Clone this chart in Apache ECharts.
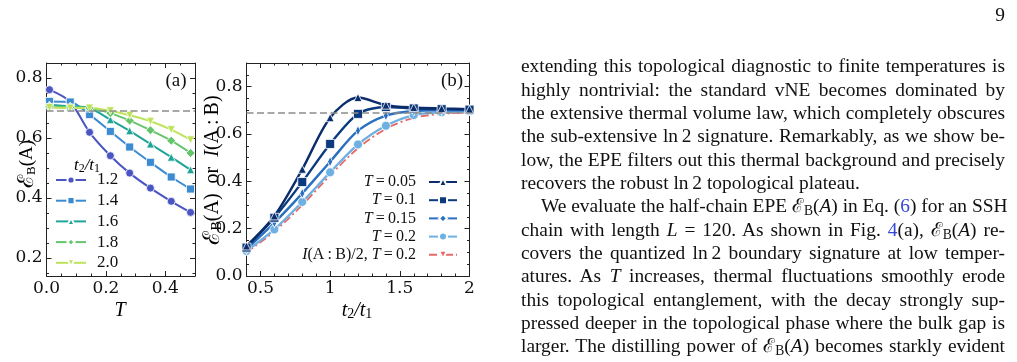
<!DOCTYPE html>
<html>
<head>
<meta charset="utf-8">
<script src="https://cdn.jsdelivr.net/npm/echarts@6/dist/echarts.min.js"></script>
<style>
  html, body { margin: 0; padding: 0; background: #fff; }
  #page { position: relative; width: 1017px; height: 362px; overflow: hidden; }
  #chart { position: absolute; left: 0; top: 0; width: 1017px; height: 362px; }
  #text { position: absolute; left: 521px; top: 54.3px; width: 484px;
          font-family: 'Liberation Serif', serif; font-size: 19.4px; line-height: 23.33px; color: #111; }
  #text div { height: 23.33px; text-align: justify; text-align-last: justify; white-space: nowrap; }
  #text div.last { text-align: left; text-align-last: left; }
  #text div.ind { text-indent: 20px; }
  #text sub { font-size: 0.7em; line-height: 0; vertical-align: -0.25em; }
  .ref { color: #3346d8; }
  #pnum { position: absolute; left: 985px; width: 20px; top: 3px; text-align: right;
          font-family: 'Liberation Serif', serif; font-size: 19.4px; line-height: 23.33px; color: #111; }
</style>
</head>
<body>
<div id="page">
  <div id="chart"></div>
  <div id="pnum">9</div>
  <div id="text">
    <div>extending this topological diagnostic to finite temperatures is</div>
    <div>highly nontrivial: the standard vNE becomes dominated by</div>
    <div>the extensive thermal volume law, which completely obscures</div>
    <div>the sub-extensive ln&thinsp;2 signature. Remarkably, as we show be-</div>
    <div>low, the EPE filters out this thermal background and precisely</div>
    <div class="last">recovers the robust ln&thinsp;2 topological plateau.</div>
    <div class="ind">We evaluate the half-chain EPE ℰ<sub>B</sub>(<i>A</i>) in Eq. (<span class="ref">6</span>) for an SSH</div>
    <div>chain with length <i>L</i> = 120. As shown in Fig. <span class="ref">4</span>(a), ℰ<sub>B</sub>(<i>A</i>) re-</div>
    <div>covers the quantized ln&thinsp;2 boundary signature at low temper-</div>
    <div>atures. As <i>T</i> increases, thermal fluctuations smoothly erode</div>
    <div>this topological entanglement, with the decay strongly sup-</div>
    <div>pressed deeper in the topological phase where the bulk gap is</div>
    <div>larger. The distilling power of ℰ<sub>B</sub>(<i>A</i>) becomes starkly evident</div>
  </div>
</div>
<script>
// panel (a): E_B(A) vs T for several t2/t1
const tValues = [0.01, 0.08, 0.145, 0.215, 0.28, 0.35, 0.42, 0.485];
const ratio12 = [0.761, 0.720, 0.619, 0.541, 0.483, 0.433, 0.389, 0.352];
const ratio14 = [0.722, 0.720, 0.678, 0.622, 0.570, 0.519, 0.470, 0.430];
const ratio16 = [0.710, 0.706, 0.700, 0.661, 0.624, 0.580, 0.536, 0.494];
const ratio18 = [0.705, 0.703, 0.700, 0.683, 0.658, 0.626, 0.591, 0.550];
const ratio20 = [0.702, 0.700, 0.700, 0.691, 0.676, 0.656, 0.628, 0.594];

// panel (b): E_B(A) vs t2/t1 for several T
const ratioValues = [0.4, 0.6, 0.8, 1.0, 1.2, 1.4, 1.6, 1.8, 2.0];
const temp005 = [0.127, 0.254, 0.451, 0.669, 0.754, 0.722, 0.712, 0.708, 0.705];
const temp01 = [0.120, 0.246, 0.397, 0.558, 0.685, 0.714, 0.708, 0.705, 0.703];
const temp015 = [0.113, 0.225, 0.349, 0.483, 0.614, 0.678, 0.697, 0.700, 0.700];
const temp02 = [0.106, 0.197, 0.313, 0.438, 0.556, 0.635, 0.680, 0.692, 0.697];
const mutual02 = [0.100, 0.188, 0.300, 0.425, 0.540, 0.622, 0.668, 0.685, 0.692];

const LN2 = Math.log(2);

// ticks
const aXMajor = [0, 0.2, 0.4];
const aXMinor = [0.05, 0.1, 0.15, 0.25, 0.3, 0.35, 0.45];
const aYMajor = [0.2, 0.4, 0.6, 0.8];
const aYMinor = [0.15, 0.25, 0.3, 0.35, 0.45, 0.5, 0.55, 0.65, 0.7, 0.75, 0.85];
const bXMajor = [0.5, 1, 1.5, 2];
const bXMinor = [0.6, 0.7, 0.8, 0.9, 1.1, 1.2, 1.3, 1.4, 1.6, 1.7, 1.8, 1.9];
const bYMajor = [0, 0.2, 0.4, 0.6, 0.8];
const bYMinor = [0.05, 0.1, 0.15, 0.25, 0.3, 0.35, 0.45, 0.5, 0.55, 0.65, 0.7, 0.75, 0.85];

const SERIF = 'Liberation Serif';
const TICK_FONT = 'DejaVu Serif';
const INK = '#111';

// 4 axes per direction: main (labels + major ticks), minor ticks, and mirrored pair
function axisSet(kind, grid, min, max, majors, minors, fmt) {
  const sides = kind === 'x' ? ['bottom', 'top'] : ['left', 'right'];
  const out = [];
  sides.forEach((pos, i) => {
    [majors, minors].forEach((ticks, j) => {
      out.push({
        type: 'value', gridIndex: grid, position: pos, min: min, max: max,
        axisLine: { show: j === 0, onZero: false, lineStyle: { color: '#222', width: 1 } },
        axisTick: { show: true, inside: true, length: j === 0 ? 5 : 2.5, customValues: ticks,
                    lineStyle: { color: '#222', width: 1 } },
        axisLabel: (i === 0 && j === 0) ? {
          show: true, customValues: majors, formatter: fmt, margin: 4,
          fontFamily: TICK_FONT, fontSize: 17, color: INK
        } : { show: false },
        splitLine: { show: false }
      });
    });
  });
  return out;
}

function lineSeries(name, xs, ys, axisIdx, color, symbol, size, extra) {
  return Object.assign({
    name: name, type: 'line', xAxisIndex: axisIdx, yAxisIndex: axisIdx,
    data: xs.map((x, i) => [x, ys[i]]),
    smooth: 0.3, symbol: symbol, symbolSize: size,
    lineStyle: { color: color, width: 2 },
    itemStyle: { color: color, borderColor: '#fff', borderWidth: 0.8 },
    emphasis: { disabled: true }
  }, extra || {});
}

function refLine(axisIdx) {
  return {
    type: 'line', xAxisIndex: axisIdx, yAxisIndex: axisIdx, data: [], silent: true,
    markLine: {
      symbol: 'none', silent: true, label: { show: false },
      lineStyle: { color: '#8c8c8c', type: [7, 3.5], width: 1.5 },
      data: [{ yAxis: LN2 }]
    }
  };
}

const richLabel = function (size) {
  return {
    n: { fontFamily: SERIF, fontSize: size, color: INK },
    i: { fontFamily: SERIF, fontSize: size, fontStyle: 'italic', color: INK },
    e: { fontFamily: 'DejaVu Serif', fontSize: size + 3, color: INK },
    s: { fontFamily: SERIF, fontSize: Math.round(size * 0.68), color: INK, lineHeight: 8, verticalAlign: 'bottom' }
  };
};

const chart = echarts.init(document.getElementById('chart'), null, { renderer: 'canvas' });

const fmt1 = v => v.toFixed(1);

chart.setOption({
  animation: false,
  backgroundColor: '#fff',
  grid: [
    { left: 46.5, top: 63, width: 148.5, height: 213, outerBoundsMode: 'none' },
    { left: 246.5, top: 63, width: 223, height: 213, outerBoundsMode: 'none' }
  ],
  xAxis: [].concat(
    axisSet('x', 0, 0, 0.5, aXMajor, aXMinor, fmt1),
    axisSet('x', 1, 0.4, 2.0, bXMajor, bXMinor, v => String(v))
  ),
  yAxis: [].concat(
    axisSet('y', 0, 0.14, 0.85, aYMajor, aYMinor, fmt1),
    axisSet('y', 1, 0, 0.9, bYMajor, bYMinor, fmt1)
  ),
  legend: [
    {
      orient: 'vertical', left: 55, top: 171.5, padding: 0,
      itemWidth: 30, itemHeight: 9, itemGap: 3.7,
      data: ['1.2', '1.4', '1.6', '1.8', '2.0'],
      textStyle: { fontFamily: SERIF, fontSize: 17, color: INK, lineHeight: 14, padding: [0, 0, 0, 6] }
    },
    {
      orient: 'vertical', align: 'right', right: 559, top: 174, padding: 0,
      itemWidth: 28, itemHeight: 10, itemGap: 2.2,
      data: ['T=0.05', 'T=0.1', 'T=0.15', 'T=0.2', 'I/2 T=0.2'],
      formatter: function (name) {
        if (name.charAt(0) === 'I') return '{i|I}{n|(A\u2009:\u2009B)/2, }{i|T}{n|\u2009=\u20090.2}';
        return '{i|T}{n|\u2009=\u2009' + name.slice(2) + '}';
      },
      textStyle: {
        fontFamily: SERIF, fontSize: 16, color: INK, lineHeight: 14, padding: [0, 8, 0, 0],
        rich: {
          n: { fontFamily: SERIF, fontSize: 16, color: INK, lineHeight: 14 },
          i: { fontFamily: SERIF, fontSize: 16, fontStyle: 'italic', color: INK, lineHeight: 14 }
        }
      }
    }
  ],
  series: [
    refLine(0),
    lineSeries('1.2', tValues, ratio12, 0, '#4a55c2', 'circle', 8),
    lineSeries('1.4', tValues, ratio14, 0, '#3b8ad2', 'rect', 8),
    lineSeries('1.6', tValues, ratio16, 0, '#1fa597', 'triangle', 8),
    lineSeries('1.8', tValues, ratio18, 0, '#66c46c', 'diamond', 9),
    lineSeries('2.0', tValues, ratio20, 0, '#bfe25c', 'triangle', 8, { symbolRotate: 180 }),

    refLine(4),
    lineSeries('I/2 T=0.2', ratioValues, mutual02, 4, '#e46a6a', 'triangle', 5,
      { symbolRotate: 180, lineStyle: { color: '#e46a6a', width: 1.8, type: [8, 3, 2, 3] } }),
    lineSeries('T=0.2', ratioValues, temp02, 4, '#6eb0e2', 'circle', 9, { lineStyle: { color: '#6eb0e2', width: 2.4 } }),
    lineSeries('T=0.15', ratioValues, temp015, 4, '#2b6fc0', 'diamond', [5, 10], { lineStyle: { color: '#2b6fc0', width: 2.4 } }),
    lineSeries('T=0.1', ratioValues, temp01, 4, '#0c3a7e', 'rect', 9, { lineStyle: { color: '#0c3a7e', width: 2.4 } }),
    lineSeries('T=0.05', ratioValues, temp005, 4, '#0b2d6c', 'triangle', 8, { lineStyle: { color: '#0b2d6c', width: 2.4 } })
  ],
  graphic: [
    { type: 'text', x: 27, y: 164, rotation: Math.PI / 2,
      style: { text: '{e|ℰ}{s|B}{n|(A)}', rich: richLabel(19), align: 'center', verticalAlign: 'middle' } },
    { type: 'text', x: 213, y: 170, rotation: Math.PI / 2,
      style: { text: '{e|ℰ}{s|B}{n|(A)  or  }{i|I}{n|(A\u2009:\u2009B)}', rich: richLabel(20), align: 'center', verticalAlign: 'middle' } },
    { type: 'text', x: 120, y: 311,
      style: { text: '{i|T}', rich: richLabel(20), align: 'center', verticalAlign: 'middle' } },
    { type: 'text', x: 357, y: 311,
      style: { text: '{i|t}{s|2}{i|/t}{s|1}', rich: richLabel(20), align: 'center', verticalAlign: 'middle' } },
    { type: 'text', x: 87, y: 166,
      style: { text: '{i|t}{s|2}{i|/t}{s|1}', rich: richLabel(17), align: 'center', verticalAlign: 'middle' } },
    { type: 'text', x: 176, y: 81,
      style: { text: '(a)', fontFamily: SERIF, fontSize: 19, fill: INK, align: 'center', verticalAlign: 'middle' } },
    { type: 'text', x: 452, y: 81,
      style: { text: '(b)', fontFamily: SERIF, fontSize: 19, fill: INK, align: 'center', verticalAlign: 'middle' } }
  ]
});
</script>
</body>
</html>
